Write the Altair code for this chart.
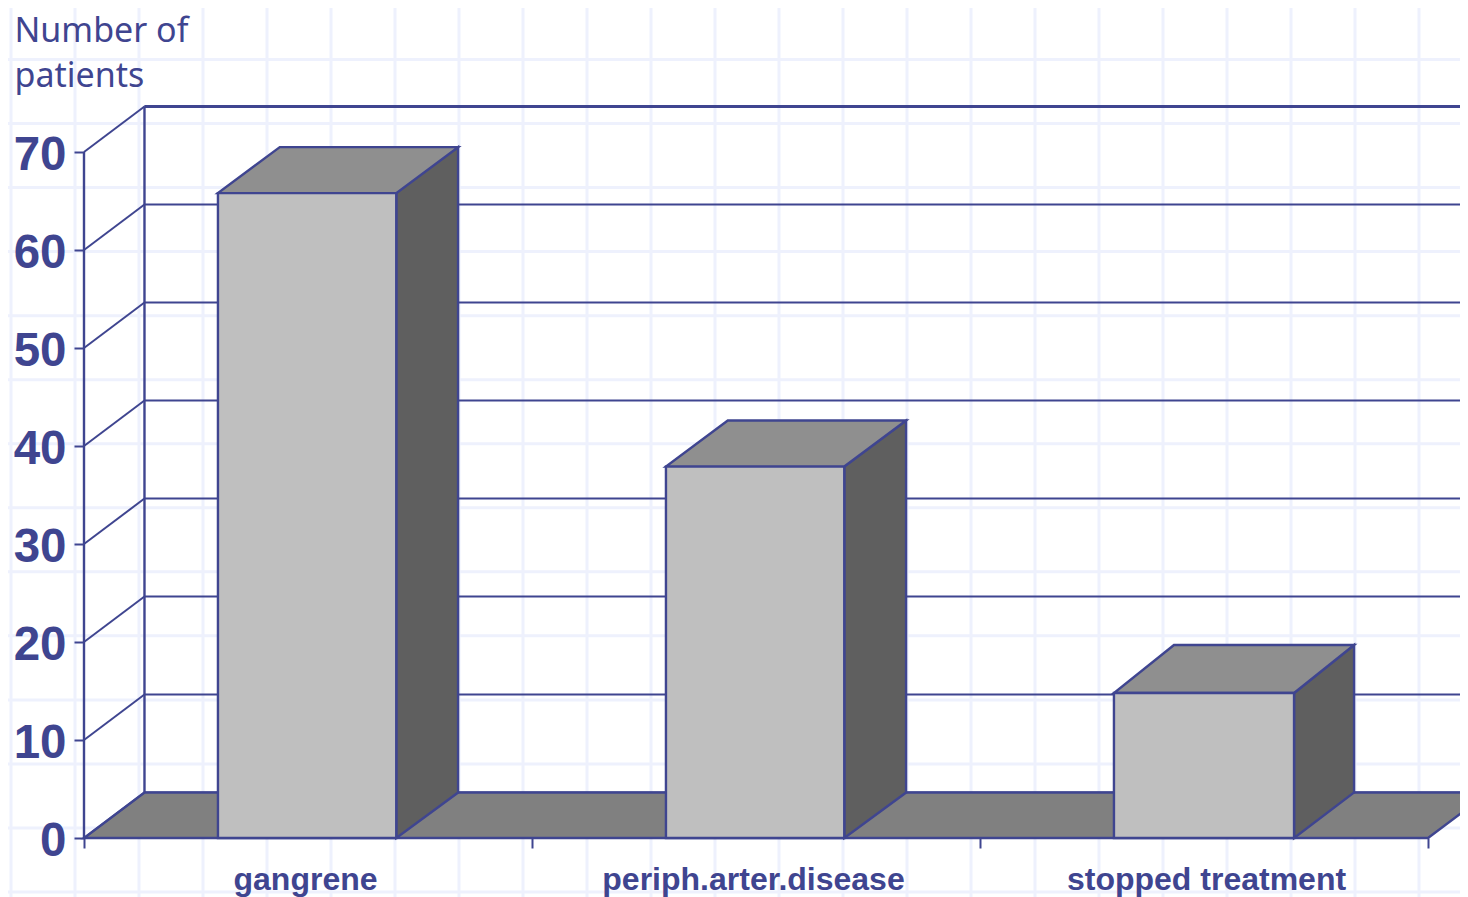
import altair as alt
import pandas as pd

categories = ["gangrene", "periph.arter.disease", "stopped treatment"]
values = [65.8, 37.9, 14.8]
bar_left = [0.299, 1.299, 2.299]
bar_right = [0.697, 1.697, 2.701]
bar_depth_x = [0.138, 0.138, 0.134]
bar_depth_y = [4.7, 4.7, 4.9]
y_ticks = [0, 10, 20, 30, 40, 50, 60, 70]
x_ticks = [0, 1, 2, 3]

# depth of the 3-D frame, in axis units
depth_x = 0.135
depth_y = 4.64

LINE = "#3f4590"
TEXT = "#3f4590"
GRID = "#eef1fd"
FRONT = "#bfbfbf"
SIDE = "#5f5f5f"
TOP = "#8f8f8f"
FLOOR = "#808080"

# faint slide-background grid, in axis units
bg_x = [(11 + 64 * i - 84) / 448 for i in range(23)]
bg_y = [(838 - (59.5 + 64.04 * i)) / 9.8 for i in range(14)]

x_max = 3.09
x_scale = alt.Scale(domain=[-76 / 448, 1376 / 448], nice=False, zero=False)
y_scale = alt.Scale(domain=[-59 / 9.8, 830 / 9.8], nice=False, zero=False)

x_axis = alt.Axis(
    values=x_ticks,
    orient="bottom",
    offset=-59,
    domain=False,
    grid=False,
    tickSize=10,
    tickWidth=2,
    tickColor=LINE,
    labelExpr="['gangrene','periph.arter.disease','stopped treatment',''][datum.value]",
    labelFont="Liberation Sans",
    labelFontWeight="bold",
    labelFontSize=32,
    labelColor=TEXT,
    labelPadding=41,
    labelBaseline="alphabetic",
    labelOverlap=False,
    labelBound=False,
    labelFlush=False,
    labelLimit=1000,
    labelOffset={"condition": {"test": "datum.value == 2", "value": 226}, "value": 221},
    title=None,
    zindex=1,
)
y_axis = alt.Axis(
    values=y_ticks,
    orient="left",
    offset=-76,
    domain=False,
    grid=False,
    tickSize=10,
    tickWidth=2,
    tickColor=LINE,
    labelFont="Liberation Sans",
    labelFontWeight="bold",
    labelFontSize=47.5,
    labelColor=TEXT,
    labelPadding=8,
    labelBaseline="middle",
    labelOffset=3,
    labelOverlap=False,
    labelBound=False,
    labelFlush=False,
    title=["Number of", "patients"],
    titleFont="Noto Sans",
    titleFontWeight="normal",
    titleFontSize=34,
    titleColor=TEXT,
    titleAngle=0,
    titleAlign="left",
    titleBaseline="alphabetic",
    titleLineHeight=45,
    titleX=-70,
    titleY=33,
    zindex=1,
)


def X(f="x"):
    return alt.X(f"{f}:Q", scale=x_scale, axis=x_axis)


def Y(f="y"):
    return alt.Y(f"{f}:Q", scale=y_scale, axis=y_axis)


grid_v = alt.Chart(pd.DataFrame({"x": bg_x})).mark_rule(color=GRID, strokeWidth=3).encode(x=X())
grid_h = alt.Chart(pd.DataFrame({"y": bg_y})).mark_rule(color=GRID, strokeWidth=3).encode(y=Y())

# floor
floor_df = pd.DataFrame(
    {"y": [0, depth_y], "x": [0, depth_x], "x2": [3, 3 + depth_x]}
)
floor = (
    alt.Chart(floor_df)
    .mark_area(orient="horizontal", fill=FLOOR, stroke=LINE, strokeWidth=2.4, clip=True)
    .encode(y=Y(), x=X(), x2="x2:Q")
)

# back wall lines
wall_df = pd.DataFrame({"y": [t + depth_y for t in y_ticks]})
wall_h = (
    alt.Chart(wall_df)
    .transform_calculate(x=str(depth_x), x2=str(x_max + 1))
    .mark_rule(color=LINE, strokeWidth=2, clip=True)
    .encode(y=Y(), x=X(), x2="x2:Q")
)
top_df = pd.DataFrame({"y": [y_ticks[-1] + depth_y], "x": [depth_x], "x2": [x_max + 1]})
wall_top = alt.Chart(top_df).mark_rule(color=LINE, strokeWidth=3, clip=True).encode(y=Y(), x=X(), x2="x2:Q")

diag_df = pd.DataFrame(
    {"x": [0] * 8, "x2": [depth_x] * 8, "y": y_ticks, "y2": [t + depth_y for t in y_ticks]}
)
diag = alt.Chart(diag_df).mark_rule(color=LINE, strokeWidth=2).encode(x=X(), x2="x2:Q", y=Y(), y2="y2:Q")

vert_df = pd.DataFrame({"x": [0, depth_x], "y": [0, depth_y], "y2": [70, 70 + depth_y]})
vert = alt.Chart(vert_df).mark_rule(color=LINE, strokeWidth=2.4).encode(x=X(), y=Y(), y2="y2:Q")

# bars
side_rows, top_rows = [], []
for c, v, l, r, dx, dy in zip(categories, values, bar_left, bar_right, bar_depth_x, bar_depth_y):
    side_rows += [
        {"c": c, "x": r, "y": 0, "y2": v},
        {"c": c, "x": r + dx, "y": depth_y, "y2": v + dy},
    ]
    top_rows += [
        {"c": c, "y": v, "x": l, "x2": r},
        {"c": c, "y": v + dy, "x": l + dx, "x2": r + dx},
    ]

side = (
    alt.Chart(pd.DataFrame(side_rows))
    .mark_area(fill=SIDE, stroke=LINE, strokeWidth=2.4)
    .encode(x=X(), y=Y(), y2="y2:Q", detail="c:N")
)
top = (
    alt.Chart(pd.DataFrame(top_rows))
    .mark_area(orient="horizontal", fill=TOP, stroke=LINE, strokeWidth=2.4)
    .encode(y=Y(), x=X(), x2="x2:Q", detail="c:N")
)
front = (
    alt.Chart(pd.DataFrame({"c": categories, "v": values, "l": bar_left, "r": bar_right, "z": [0, 0, 0]}))
    .mark_rect(fill=FRONT, stroke=LINE, strokeWidth=2.4)
    .encode(x=X("l"), x2="r:Q", y=Y("z"), y2="v:Q")
)

chart = (
    alt.layer(grid_v, grid_h, wall_h, wall_top, floor, diag, vert, side, top, front)
    .properties(
        width=1452,
        height=889,
        padding=0,
        autosize=alt.AutoSizeParams(type="none"),
        background="white",
    )
    .configure_view(stroke=None)
)

chart.save("out.html", embed_options={"renderer": "svg", "actions": False})
